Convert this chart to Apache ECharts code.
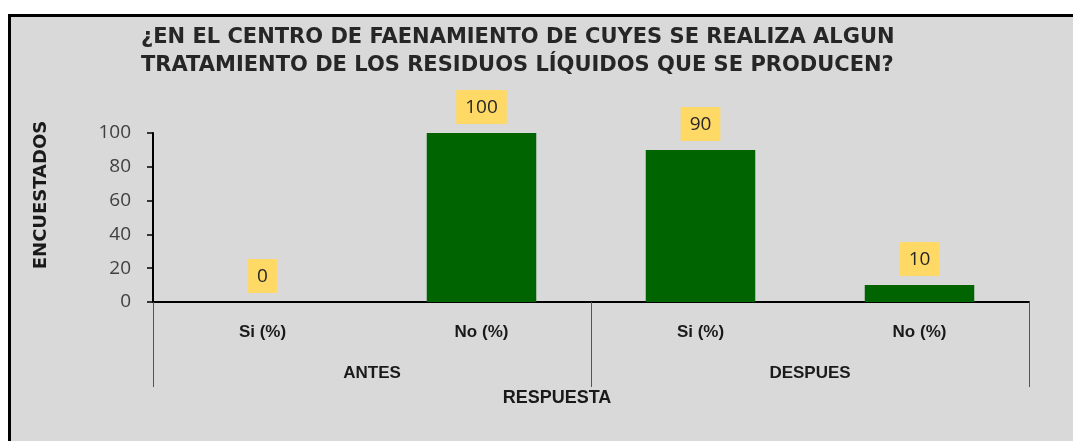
<!DOCTYPE html>
<html>
<head>
<meta charset="utf-8">
<script src="https://cdn.jsdelivr.net/npm/echarts@6/dist/echarts.min.js"></script>
<style>
  html, body { margin: 0; padding: 0; background: #fff; overflow: hidden; }
  .frame {
    position: absolute; left: 8px; top: 14px; width: 1120px; height: 500px;
    background: #d9d9d9; border-left: 3px solid #000; border-top: 3px solid #000;
  }
  #chart { position: absolute; left: 0; top: 0; width: 1073px; height: 441px; }
</style>
</head>
<body>
<div class="frame"></div>
<div id="chart"></div>
<script>
// respuestas por categoria
const categorias = ['Si (%)', 'No (%)', 'Si (%)', 'No (%)'];
const grupos = ['ANTES', 'DESPUES'];
const valores = [0, 100, 90, 10];
const yTicks = [0, 20, 40, 60, 80, 100];

const tituloTxt = '¿EN EL CENTRO DE FAENAMIENTO DE CUYES SE REALIZA ALGUN\nTRATAMIENTO DE LOS RESIDUOS LÍQUIDOS QUE SE PRODUCEN?';

const labelFont = '"Liberation Sans Narrow", "Liberation Sans", sans-serif';

let myChart = echarts.init(document.getElementById('chart'));
let option = {
  backgroundColor: 'transparent',
  animation: false,
  title: {
    text: tituloTxt,
    left: 136,
    top: 19,
    textStyle: {
      fontFamily: '"DejaVu Sans", sans-serif',
      fontWeight: 'bold',
      fontSize: 21,
      lineHeight: 28,
      color: '#262626'
    }
  },
  grid: { left: 153, right: 44, top: 133, bottom: 139 },
  xAxis: [
    {
      type: 'category',
      data: categorias,
      axisLine: { lineStyle: { color: '#000', width: 2 } },
      axisTick: { show: false },
      axisLabel: {
        margin: 22,
        fontFamily: labelFont,
        fontWeight: 'bold',
        fontSize: 17,
        color: '#1a1a1a'
      }
    },
    {
      type: 'category',
      data: grupos,
      position: 'bottom',
      axisLine: { show: false },
      axisTick: { show: true, length: 85, lineStyle: { color: '#555', width: 1 } },
      axisLabel: {
        margin: 63,
        fontFamily: labelFont,
        fontWeight: 'bold',
        fontSize: 17,
        color: '#1a1a1a'
      }
    }
  ],
  yAxis: {
    type: 'value',
    min: yTicks[0],
    max: yTicks[yTicks.length - 1],
    interval: 20,
    splitLine: { show: false },
    axisLine: { show: true, lineStyle: { color: '#000', width: 2 } },
    axisTick: { show: true, length: 6, lineStyle: { color: '#000', width: 1.5 } },
    axisLabel: {
      margin: 22,
      fontFamily: '"Open Sans", sans-serif',
      fontSize: 19,
      color: '#404040'
    }
  },
  graphic: [
    {
      type: 'text',
      x: 41, y: 195,
      rotation: Math.PI / 2,
      style: {
        text: 'ENCUESTADOS',
        fontFamily: '"DejaVu Sans", sans-serif',
        fontWeight: 'bold',
        fontSize: 18,
        fill: '#1a1a1a',
        align: 'center',
        verticalAlign: 'middle'
      }
    },
    {
      type: 'text',
      x: 557, y: 398,
      style: {
        text: 'RESPUESTA',
        fontFamily: labelFont,
        fontWeight: 'bold',
        fontSize: 18,
        fill: '#1a1a1a',
        align: 'center',
        verticalAlign: 'middle'
      }
    }
  ],
  series: [
    {
      type: 'bar',
      xAxisIndex: 0,
      data: valores,
      barWidth: '50%',
      itemStyle: { color: '#006400' },
      label: {
        show: true,
        position: 'top',
        distance: 9,
        fontFamily: '"Open Sans", sans-serif',
        fontSize: 19,
        color: '#262626',
        backgroundColor: '#FFD966',
        padding: [8, 9, 7, 9]
      }
    }
  ]
};
myChart.setOption(option);
</script>
</body>
</html>
